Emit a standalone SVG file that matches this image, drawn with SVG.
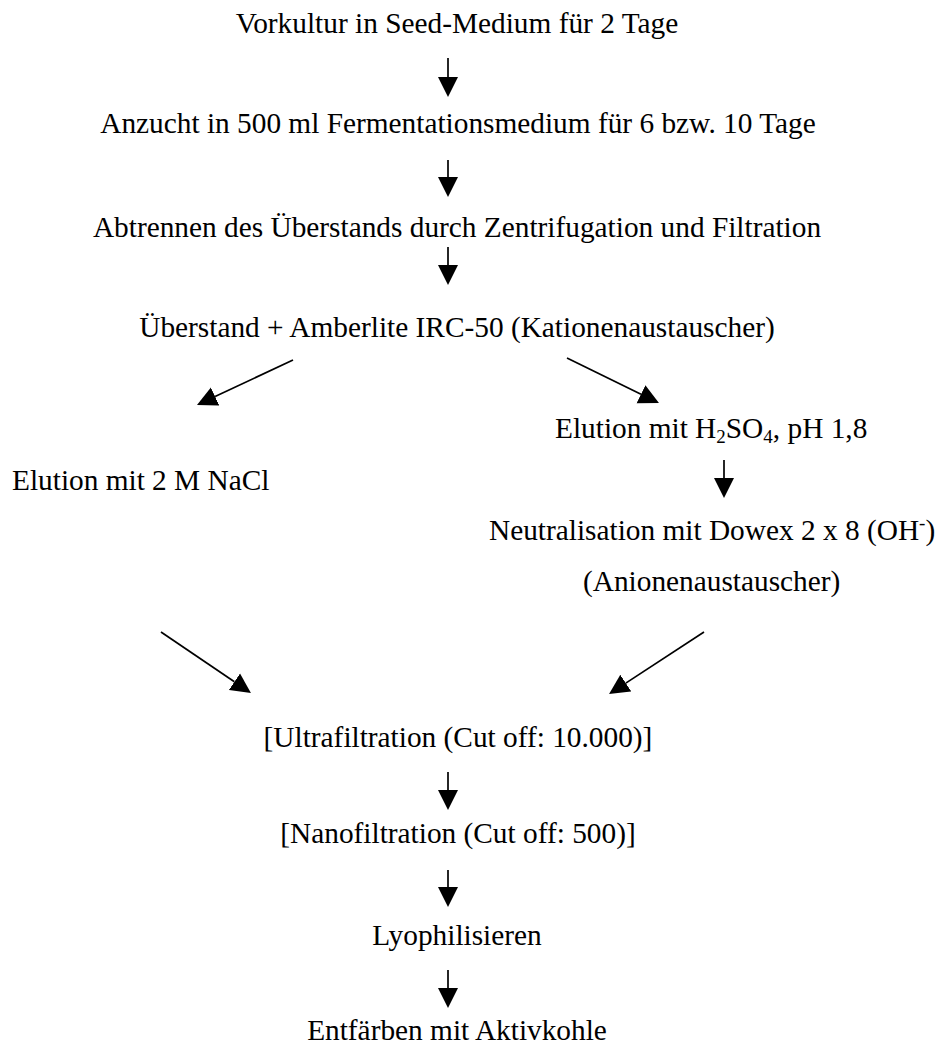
<svg xmlns="http://www.w3.org/2000/svg" width="937" height="1048" viewBox="0 0 937 1048">
<style>
text{font-family:"Liberation Serif","Times New Roman",serif;font-size:29.33px;fill:#000}
.m{text-anchor:middle}
.s{font-size:19px}
.c{stroke:#000;stroke-width:1.7;fill:none}
</style>
<defs>
<marker id="ah" markerUnits="userSpaceOnUse" markerWidth="20" markerHeight="21" viewBox="0 0 20 20" refX="0" refY="10" orient="auto">
<path d="M0,0 L20,10 L0,20 z" fill="#000"/>
</marker>
</defs>
<g id="n1"><text class="m" x="457" y="33">Vorkultur in Seed-Medium für 2 Tage</text></g>
<g id="n2"><text class="m" x="458" y="133">Anzucht in 500 ml Fermentationsmedium für 6 bzw. 10 Tage</text></g>
<g id="n3"><text class="m" x="457" y="237">Abtrennen des Überstands durch Zentrifugation und Filtration</text></g>
<g id="n4"><text class="m" x="457" y="337">Überstand + Amberlite IRC-50 (Kationenaustauscher)</text></g>
<g id="n5"><text x="12" y="490">Elution mit 2 M NaCl</text></g>
<g id="n6"><text x="555" y="438">Elution mit H<tspan class="s" dy="5">2</tspan><tspan dy="-5">SO</tspan><tspan class="s" dy="5">4</tspan><tspan dy="-5">, pH 1,8</tspan></text></g>
<g id="n7"><text x="489" y="540">Neutralisation mit Dowex 2 x 8 (OH<tspan class="s" dy="-11">-</tspan><tspan dy="11">)</tspan></text>
<text x="583" y="591">(Anionenaustauscher)</text></g>
<g id="n8"><text class="m" x="458" y="747">[Ultrafiltration (Cut off: 10.000)]</text></g>
<g id="n9"><text class="m" x="458" y="843">[Nanofiltration (Cut off: 500)]</text></g>
<g id="n10"><text class="m" x="457" y="945">Lyophilisieren</text></g>
<g id="n11"><text class="m" x="457" y="1040">Entfärben mit Aktivkohle</text></g>
<g id="connectors">
<path class="c" d="M448,58 L448,77" marker-end="url(#ah)"/>
<path class="c" d="M448,160 L448,177" marker-end="url(#ah)"/>
<path class="c" d="M448,247 L448,265" marker-end="url(#ah)"/>
<path class="c" d="M293,360 L215.1,396.5" marker-end="url(#ah)"/>
<path class="c" d="M567,358 L641,394.2" marker-end="url(#ah)"/>
<path class="c" d="M724,460 L724,478" marker-end="url(#ah)"/>
<path class="c" d="M161,632 L234.4,681.8" marker-end="url(#ah)"/>
<path class="c" d="M704,632 L625.8,683.1" marker-end="url(#ah)"/>
<path class="c" d="M448,772 L448,790" marker-end="url(#ah)"/>
<path class="c" d="M448,870 L448,887" marker-end="url(#ah)"/>
<path class="c" d="M448,970 L448,988" marker-end="url(#ah)"/>
</g>
</svg>
